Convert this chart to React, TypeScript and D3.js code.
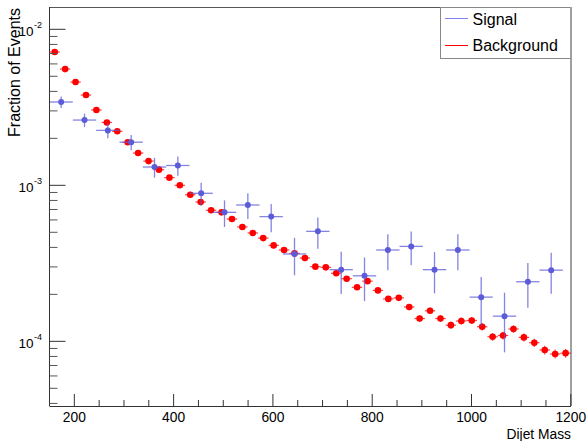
import React from "react";
import * as d3 from "d3";

const W = 588;
const H = 441;

const xDomain = [150, 1200];
const yDomain = [3.85e-5, 0.0139];
const xMajorTicks = [200, 400, 600, 800, 1000, 1200];
const xMinorStep = 50;
const yDecades = [-2, -3, -4];

const bkgStart = 150;
const bkgBinWidth = 21;
const bkgValues = [
  7.15e-3, 5.56e-3, 4.59e-3, 3.79e-3, 3.04e-3, 2.53e-3, 2.22e-3, 1.89e-3, 1.61e-3, 1.43e-3,
  1.26e-3, 1.12e-3, 1.0e-3, 8.7e-4, 7.82e-4, 6.92e-4, 6.71e-4, 6.08e-4, 5.41e-4, 4.95e-4,
  4.59e-4, 4.12e-4, 3.85e-4, 3.66e-4, 3.42e-4, 3.01e-4, 2.98e-4, 2.73e-4, 2.52e-4, 2.22e-4,
  2.43e-4, 2.12e-4, 1.87e-4, 1.9e-4, 1.66e-4, 1.4e-4, 1.57e-4, 1.4e-4, 1.27e-4, 1.35e-4,
  1.36e-4, 1.24e-4, 1.07e-4, 1.09e-4, 1.2e-4, 1.06e-4, 9.8e-5, 8.8e-5, 8.3e-5, 8.4e-5,
];
const bkgErrors = [
  5.1e-5, 4.5e-5, 4.1e-5, 3.7e-5, 3.3e-5, 3.0e-5, 2.8e-5, 2.6e-5, 2.4e-5, 2.3e-5,
  2.1e-5, 2.0e-5, 1.9e-5, 1.8e-5, 1.7e-5, 1.6e-5, 1.55e-5, 1.5e-5, 1.4e-5, 1.35e-5,
  1.3e-5, 1.2e-5, 1.2e-5, 1.15e-5, 1.1e-5, 1.05e-5, 1.05e-5, 1.0e-5, 9.5e-6, 9.0e-6,
  9.4e-6, 8.7e-6, 8.2e-6, 8.3e-6, 7.7e-6, 7.1e-6, 7.5e-6, 7.1e-6, 6.8e-6, 7.0e-6,
  7.0e-6, 6.7e-6, 6.2e-6, 6.3e-6, 6.6e-6, 6.2e-6, 5.9e-6, 5.6e-6, 5.5e-6, 5.5e-6,
];

const sigStart = 150;
const sigBinWidth = 47;
const sigValues = [
  3.42e-3, 2.62e-3, 2.25e-3, 1.89e-3, 1.31e-3, 1.34e-3, 8.89e-4, 6.71e-4, 7.48e-4, 6.3e-4,
  3.63e-4, 5.07e-4, 2.88e-4, 2.63e-4, 3.85e-4, 4.06e-4, 2.88e-4, 3.85e-4, 1.92e-4, 1.45e-4,
  2.41e-4, 2.86e-4,
];
const sigErrors = [
  2.9e-4, 2.6e-4, 2.5e-4, 2.1e-4, 1.9e-4, 1.9e-4, 1.5e-4, 1.3e-4, 1.4e-4, 1.3e-4,
  9.8e-5, 1.15e-4, 8.7e-5, 8.2e-5, 1.0e-4, 9.9e-5, 8.5e-5, 1.0e-4, 6.6e-5, 6.0e-5,
  7.7e-5, 8.4e-5,
];

const legendLabels = ["Signal", "Background"];
const sigColor = "#5c5cd8";
const bkgColor = "#ff0000";

const FONT = "'Liberation Sans', Arial, Helvetica, sans-serif";

export default function App() {
  const fx0 = 49.5, fx1 = 571, fy0 = 7, fy1 = 406;
  const x = d3.scaleLinear().domain(xDomain).range([fx0, fx1 - 0.2]);
  const y = d3.scaleLog().domain(yDomain).range([fy1, fy0]);

  const xMinor = d3.range(xDomain[0], xDomain[1] + 1, xMinorStep).filter(
    (v) => !xMajorTicks.includes(v) && v > xDomain[0]
  );
  const yMinor: number[] = [];
  for (let e = -5; e <= -1; e++) {
    for (let m = 2; m <= 9; m++) {
      const v = m * Math.pow(10, e);
      if (v > yDomain[0] && v < yDomain[1]) yMinor.push(v);
    }
  }

  const bkg = bkgValues.map((v, i) => ({
    lo: bkgStart + i * bkgBinWidth,
    hi: bkgStart + (i + 1) * bkgBinWidth,
    c: bkgStart + (i + 0.5) * bkgBinWidth,
    v,
    e: bkgErrors[i],
  }));
  const sig = sigValues.map((v, i) => ({
    lo: sigStart + i * sigBinWidth,
    hi: sigStart + (i + 1) * sigBinWidth,
    c: sigStart + (i + 0.5) * sigBinWidth,
    v,
    e: sigErrors[i],
  }));

  return (
    <svg
      width={W}
      height={H}
      style={{ position: "absolute", left: 0, top: 0, background: "#fff" }}
      fontFamily={FONT}
    >
      <rect x={0} y={0} width={W} height={H} fill="#fff" />
      {/* frame */}
      <line x1={fx0} x2={fx1} y1={fy0 + 0.5} y2={fy0 + 0.5} stroke="#555" strokeWidth={1} />
      <line x1={fx1} x2={fx1} y1={fy0} y2={fy1} stroke="#a0a0a0" strokeWidth={2} />

      {/* background points */}
      <g>
        {bkg.map((d, i) => (
          <g key={"b" + i}>
            <line x1={x(d.lo)} x2={x(d.hi)} y1={y(d.v)} y2={y(d.v)} stroke={bkgColor} strokeWidth={1.2} opacity={0.75} />
            <line x1={x(d.c)} x2={x(d.c)} y1={y(d.v - d.e)} y2={y(d.v + d.e)} stroke={bkgColor} strokeWidth={1.2} opacity={0.75} />
            <circle cx={x(d.c)} cy={y(d.v)} r={3.3} fill={bkgColor} />
          </g>
        ))}
      </g>

      {/* signal points */}
      <g>
        {sig.map((d, i) => (
          <g key={"s" + i}>
            <line x1={x(d.lo)} x2={x(d.hi)} y1={y(d.v)} y2={y(d.v)} stroke={sigColor} strokeWidth={1.3} opacity={0.75} />
            <line x1={x(d.c)} x2={x(d.c)} y1={y(d.v - d.e)} y2={y(d.v + d.e)} stroke={sigColor} strokeWidth={1.3} opacity={0.75} />
            <circle cx={x(d.c)} cy={y(d.v)} r={3} fill={sigColor} />
          </g>
        ))}
      </g>

      {/* x axis */}
      <g>
        <line x1={fx0} x2={fx1} y1={fy1 + 0.5} y2={fy1 + 0.5} stroke="#333" strokeWidth={1} />
        {xMajorTicks.map((t) => (
          <g key={"xm" + t}>
            <line x1={x(t)} x2={x(t)} y1={fy1} y2={fy1 - 12} stroke="#333" strokeWidth={1} />
            <text x={x(t)} y={421.5} fontSize={13.8} textAnchor="middle" fill="#000">
              {t}
            </text>
          </g>
        ))}
        {xMinor.map((t) => (
          <line key={"xn" + t} x1={x(t)} x2={x(t)} y1={fy1} y2={fy1 - 6} stroke="#333" strokeWidth={1} />
        ))}
        <text x={fx1} y={438.5} fontSize={13.8} textAnchor="end" fill="#000">
          Dijet Mass
        </text>
      </g>

      {/* y axis */}
      <g>
        <line x1={fx0} x2={fx0} y1={fy0} y2={fy1} stroke="#333" strokeWidth={1} />
        {yDecades.map((e) => {
          const v = Math.pow(10, e);
          const yy = y(v);
          return (
            <g key={"ym" + e}>
              <line x1={fx0} x2={fx0 + 16} y1={yy} y2={yy} stroke="#333" strokeWidth={1} />
              <text x={33.5} y={yy + 7} fontSize={13.5} textAnchor="end" fill="#000">
                10
              </text>
              <text x={34} y={yy - 1} fontSize={9} textAnchor="start" fill="#000">
                {"-" + Math.abs(e)}
              </text>
            </g>
          );
        })}
        {yMinor.map((v, i) => (
          <line key={"yn" + i} x1={fx0} x2={fx0 + 8} y1={y(v)} y2={y(v)} stroke="#555" strokeWidth={1} />
        ))}
        <text
          transform={`translate(19.5, 8) rotate(-90)`}
          fontSize={16}
          textAnchor="end"
          fill="#000"
        >
          Fraction of Events
        </text>
      </g>

      {/* legend */}
      <g>
        <rect x={440.5} y={7.5} width={130.5} height={51} fill="#fff" stroke="#888" strokeWidth={1} />
        <line x1={445} x2={468} y1={18.5} y2={18.5} stroke="#8080ee" strokeWidth={1} />
        <text x={472.5} y={24.5} fontSize={16} fill="#000">
          {legendLabels[0]}
        </text>
        <line x1={445} x2={468} y1={45.5} y2={45.5} stroke={bkgColor} strokeWidth={1} />
        <text x={472.5} y={51} fontSize={16} fill="#000">
          {legendLabels[1]}
        </text>
        <line x1={fx1} x2={fx1} y1={fy0} y2={58.5} stroke="#a0a0a0" strokeWidth={2} />
      </g>
    </svg>
  );
}
